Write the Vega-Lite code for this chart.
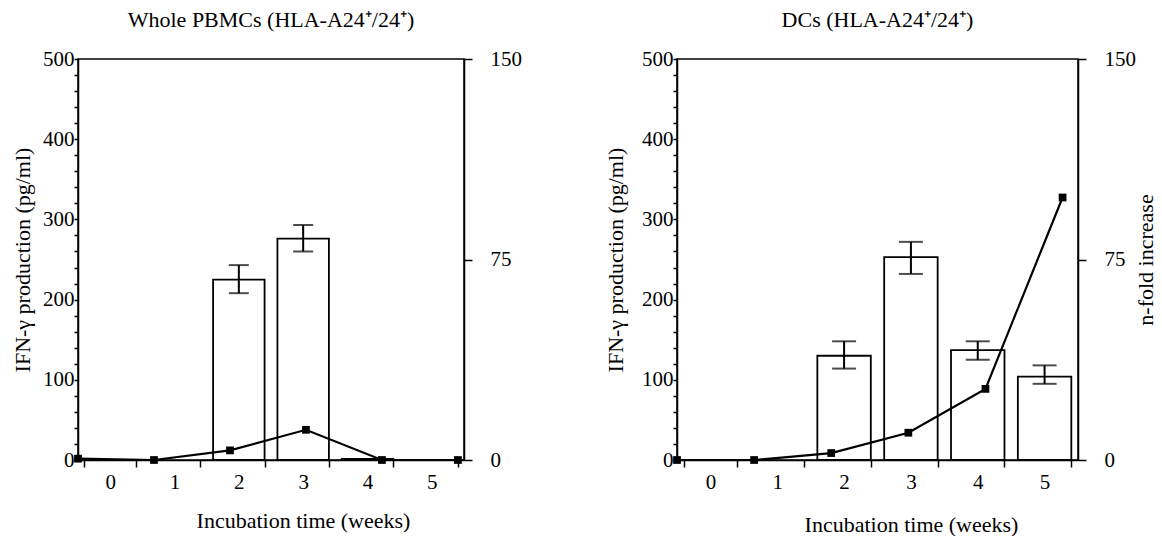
{
  "$schema": "https://vega.github.io/schema/vega-lite/v6.json",
  "padding": {"left": 10, "top": 8, "right": 5, "bottom": 0},
  "spacing": 80,
  "config": {
    "font": "Liberation Serif",
    "view": {"stroke": "black", "strokeWidth": 1.5},
    "title": {"font": "Liberation Serif", "fontSize": 22, "fontWeight": "normal", "color": "black", "offset": 16},
    "axis": {
      "grid": false,
      "domainColor": "black", "domainWidth": 1.5,
      "tickColor": "black", "tickWidth": 1.5,
      "labelColor": "black", "titleColor": "black",
      "labelFont": "Liberation Serif", "titleFont": "Liberation Serif",
      "labelFontSize": 21, "titleFontSize": 22, "titleFontWeight": "normal",
      "labelOverlap": false
    }
  },
  "datasets": {
    "pbmcBars": [
      {"week": 2, "ifn": 225, "lo": 208, "hi": 243},
      {"week": 3, "ifn": 276, "lo": 260, "hi": 293},
      {"week": 4, "ifn": 1.5, "lo": null, "hi": null}
    ],
    "pbmcLine": [
      {"week": 0, "fold": 0.5},
      {"week": 1, "fold": 0},
      {"week": 2, "fold": 3.6},
      {"week": 3, "fold": 11.3},
      {"week": 4, "fold": 0},
      {"week": 5, "fold": 0}
    ],
    "dcBars": [
      {"week": 2, "ifn": 130, "lo": 114, "hi": 148},
      {"week": 3, "ifn": 253, "lo": 232, "hi": 272},
      {"week": 4, "ifn": 137, "lo": 125, "hi": 148},
      {"week": 5, "ifn": 104, "lo": 95, "hi": 118}
    ],
    "dcLine": [
      {"week": 0, "fold": 0},
      {"week": 1, "fold": 0},
      {"week": 2, "fold": 2.6},
      {"week": 3, "fold": 10.2},
      {"week": 4, "fold": 26.6},
      {"week": 5, "fold": 98.2}
    ]
  },
  "hconcat": [
    {
      "width": 386,
      "height": 401,
      "title": {"text": "Whole PBMCs (HLA-A24⁺/24⁺)"},
      "layer": [
        {
          "data": {"name": "pbmcBars"},
          "encoding": {
            "x": {
              "field": "week", "type": "ordinal",
              "scale": {"domain": [0, 1, 2, 3, 4, 5], "paddingInner": 0.2, "paddingOuter": 0.1},
              "axis": {"title": "Incubation time (weeks)", "labelAngle": 0, "tickBand": "extent", "tickSize": 7, "labelPadding": 4,
                       "titleX": 225, "titleY": 60, "titleBaseline": "middle", "titleAlign": "center"}
            }
          },
          "layer": [
            {
              "mark": {"type": "bar", "fill": "white", "stroke": "black", "strokeWidth": 1.8},
              "encoding": {
                "y": {
                  "field": "ifn", "type": "quantitative",
                  "scale": {"domain": [0, 500], "nice": false},
                  "axis": {
                    "title": "IFN-γ production (pg/ml)",
                    "values": [0, 20, 40, 60, 80, 100, 120, 140, 160, 180, 200, 220, 240, 260, 280, 300, 320, 340, 360, 380, 400, 420, 440, 460, 480, 500],
                    "tickCount": 40,
                    "labelExpr": "datum.value % 100 === 0 ? datum.label : ''",
                    "tickSize": 4, "labelPadding": 0, "titlePadding": 8
                  }
                }
              }
            },
            {
              "mark": {"type": "rule", "color": "black", "strokeWidth": 2},
              "encoding": {
                "y": {"field": "lo", "type": "quantitative"},
                "y2": {"field": "hi"}
              }
            },
            {
              "mark": {"type": "tick", "color": "black", "size": 20, "thickness": 2},
              "encoding": {"y": {"field": "lo", "type": "quantitative"}}
            },
            {
              "mark": {"type": "tick", "color": "black", "size": 20, "thickness": 2},
              "encoding": {"y": {"field": "hi", "type": "quantitative"}}
            }
          ]
        },
        {
          "data": {"name": "pbmcLine"},
          "encoding": {
            "x": {"field": "week", "type": "quantitative", "scale": {"domain": [0, 5.08], "nice": false, "zero": false}, "axis": null},
            "y": {
              "field": "fold", "type": "quantitative",
              "scale": {"domain": [0, 150], "nice": false},
              "axis": {"orient": "right", "title": null, "values": [0, 75, 150], "tickSize": 8, "labelPadding": 18}
            }
          },
          "layer": [
            {"mark": {"type": "line", "color": "black", "strokeWidth": 2.2}},
            {"mark": {"type": "point", "shape": "square", "filled": true, "color": "black", "size": 60, "opacity": 1}}
          ]
        }
      ],
      "resolve": {"scale": {"x": "independent", "y": "independent"}}
    },
    {
      "width": 401,
      "height": 401,
      "title": {"text": "DCs (HLA-A24⁺/24⁺)"},
      "layer": [
        {
          "data": {"name": "dcBars"},
          "encoding": {
            "x": {
              "field": "week", "type": "ordinal",
              "scale": {"domain": [0, 1, 2, 3, 4, 5], "paddingInner": 0.2, "paddingOuter": 0.1},
              "axis": {"title": "Incubation time (weeks)", "labelAngle": 0, "tickBand": "extent", "tickSize": 7, "labelPadding": 4,
                       "titleX": 234, "titleY": 64, "titleBaseline": "middle", "titleAlign": "center"}
            }
          },
          "layer": [
            {
              "mark": {"type": "bar", "fill": "white", "stroke": "black", "strokeWidth": 1.8},
              "encoding": {
                "y": {
                  "field": "ifn", "type": "quantitative",
                  "scale": {"domain": [0, 500], "nice": false},
                  "axis": {
                    "title": "IFN-γ production (pg/ml)",
                    "values": [0, 20, 40, 60, 80, 100, 120, 140, 160, 180, 200, 220, 240, 260, 280, 300, 320, 340, 360, 380, 400, 420, 440, 460, 480, 500],
                    "tickCount": 40,
                    "labelExpr": "datum.value % 100 === 0 ? datum.label : ''",
                    "tickSize": 4, "labelPadding": 0, "titlePadding": 14
                  }
                }
              }
            },
            {
              "mark": {"type": "rule", "color": "black", "strokeWidth": 2},
              "encoding": {
                "y": {"field": "lo", "type": "quantitative"},
                "y2": {"field": "hi"}
              }
            },
            {
              "mark": {"type": "tick", "color": "black", "size": 24, "thickness": 2},
              "encoding": {"y": {"field": "lo", "type": "quantitative"}}
            },
            {
              "mark": {"type": "tick", "color": "black", "size": 24, "thickness": 2},
              "encoding": {"y": {"field": "hi", "type": "quantitative"}}
            }
          ]
        },
        {
          "data": {"name": "dcLine"},
          "encoding": {
            "x": {"field": "week", "type": "quantitative", "scale": {"domain": [0, 5.2], "nice": false, "zero": false}, "axis": null},
            "y": {
              "field": "fold", "type": "quantitative",
              "scale": {"domain": [0, 150], "nice": false},
              "axis": {"orient": "right", "title": "n-fold increase", "titleAngle": 270, "values": [0, 75, 150], "tickSize": 8, "labelPadding": 18, "titlePadding": 22}
            }
          },
          "layer": [
            {"mark": {"type": "line", "color": "black", "strokeWidth": 2.2}},
            {"mark": {"type": "point", "shape": "square", "filled": true, "color": "black", "size": 60, "opacity": 1}}
          ]
        }
      ],
      "resolve": {"scale": {"x": "independent", "y": "independent"}}
    }
  ]
}
